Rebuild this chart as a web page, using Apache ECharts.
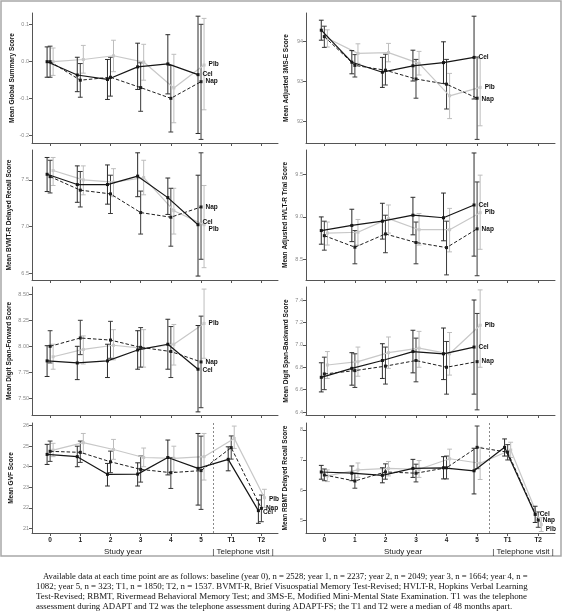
<!DOCTYPE html>
<html><head><meta charset="utf-8">
<script src="https://cdn.jsdelivr.net/npm/echarts@6/dist/echarts.min.js"></script>
<style>html,body{margin:0;padding:0;background:#fff}#c{width:562px;height:614px}</style>
</head><body><div id="c"></div>
<script>
// ---------- categories ----------
const groups = ['Cel', 'Nap', 'Plb'];
const studyYears = [0, 1, 2, 3, 4, 5];
const allVisits = [0, 1, 2, 3, 4, 5, 6, 7];
const xTickLabels = ['0', '1', '2', '3', '4', '5', 'T1', 'T2'];
const telephoneDivider = 5.4;

// ---------- Global Summary Score ----------
const gsTicks = [-0.2, -0.1, 0.0, 0.1];
const gsCel = [0.0, -0.036, -0.048, -0.014, -0.006, -0.035];
const gsCelLo = [-0.042, -0.081, -0.102, -0.075, -0.087, -0.194];
const gsCelHi = [0.040, 0.012, 0.006, 0.050, 0.073, 0.123];
const gsNap = [0.0, -0.050, -0.042, -0.070, -0.099, -0.054];
const gsNapLo = [-0.042, -0.096, -0.093, -0.134, -0.190, -0.210];
const gsNapHi = [0.042, -0.005, 0.012, -0.003, -0.010, 0.101];
const gsPlb = [0.0, 0.006, 0.016, -0.001, -0.071, -0.009];
const gsPlbLo = [-0.037, -0.031, -0.027, -0.050, -0.165, -0.130];
const gsPlbHi = [0.037, 0.044, 0.058, 0.047, 0.020, 0.117];

// ---------- Adjusted 3MS-E ----------
const msTicks = [92, 93, 94];
const msCel = [94.27, 93.47, 93.22, 93.38, 93.46, 93.59];
const msCelLo = [94.02, 93.18, 92.84, 93.00, 92.94, 92.55];
const msCelHi = [94.52, 93.76, 93.59, 93.77, 93.98, 94.62];
const msNap = [94.11, 93.39, 93.27, 93.05, 92.92, 92.57];
const msNapLo = [93.84, 93.10, 92.90, 92.57, 92.30, 91.54];
const msNapHi = [94.37, 93.66, 93.67, 93.54, 93.54, 93.60];
const msPlb = [94.07, 93.69, 93.71, 93.44, 92.63, 92.84];
const msPlbLo = [93.85, 93.44, 93.48, 93.15, 92.06, 91.88];
const msPlbHi = [94.28, 93.93, 93.94, 93.74, 93.19, 93.56];

// ---------- BVMT-R Delayed Recall ----------
const bvTicks = [6.5, 7.0, 7.5];
const bvCel = [7.56, 7.45, 7.45, 7.54, 7.31, 7.02];
const bvCelLo = [7.375, 7.26, 7.24, 7.32, 7.13, 6.47];
const bvCelHi = [7.74, 7.65, 7.66, 7.79, 7.52, 7.55];
const bvNap = [7.535, 7.39, 7.35, 7.15, 7.10, 7.21];
const bvNapLo = [7.36, 7.21, 7.14, 6.92, 6.79, 6.65];
const bvNapHi = [7.71, 7.59, 7.55, 7.38, 7.41, 7.79];
const bvPlb = [7.60, 7.50, 7.475, 7.525, 7.17, 7.02];
const bvPlbLo = [7.44, 7.34, 7.32, 7.34, 6.92, 6.56];
const bvPlbHi = [7.74, 7.65, 7.62, 7.71, 7.41, 7.44];

// ---------- Adjusted HVLT-R Trial ----------
const hvTicks = [8.5, 9.0, 9.5];
const hvCel = [8.84, 8.90, 8.95, 9.02, 8.99, 9.14];
const hvCelLo = [8.68, 8.71, 8.74, 8.79, 8.72, 8.54];
const hvCelHi = [9.00, 9.09, 9.16, 9.23, 9.28, 9.75];
const hvNap = [8.78, 8.645, 8.80, 8.70, 8.64, 8.86];
const hvNapLo = [8.61, 8.45, 8.58, 8.45, 8.32, 8.31];
const hvNapHi = [8.95, 8.84, 9.02, 8.94, 8.95, 9.41];
const hvPlb = [8.81, 8.82, 8.98, 8.85, 8.85, 9.05];
const hvPlbLo = [8.67, 8.67, 8.81, 8.67, 8.59, 8.62];
const hvPlbHi = [8.94, 8.97, 9.14, 9.04, 9.10, 9.49];

// ---------- Digit Span-Forward ----------
const dfTicks = [7.50, 7.75, 8.00, 8.25, 8.50];
const dfCel = [7.86, 7.84, 7.86, 7.965, 8.02, 7.78];
const dfCelLo = [7.71, 7.68, 7.70, 7.78, 7.78, 7.37];
const dfCelHi = [8.006, 8.00, 8.02, 8.15, 8.26, 8.20];
const dfNap = [8.00, 8.08, 8.06, 7.99, 7.95, 7.85];
const dfNapLo = [7.84, 7.92, 7.885, 7.80, 7.70, 7.41];
const dfNapHi = [8.15, 8.25, 8.24, 8.18, 8.19, 8.29];
const dfPlb = [7.90, 7.97, 8.01, 7.98, 8.02, 8.22];
const dfPlbLo = [7.78, 7.83, 7.87, 7.80, 7.82, 7.885];
const dfPlbHi = [8.02, 8.10, 8.16, 8.16, 8.21, 8.55];

// ---------- Digit Span-Backward ----------
const dbTicks = [6.4, 6.6, 6.8, 7.0, 7.2, 7.4];
const dbCel = [6.71, 6.79, 6.86, 6.94, 6.92, 6.98];
const dbCelLo = [6.58, 6.64, 6.70, 6.75, 6.69, 6.56];
const dbCelHi = [6.84, 6.93, 7.01, 7.13, 7.15, 7.40];
const dbNap = [6.74, 6.77, 6.81, 6.86, 6.80, 6.85];
const dbNapLo = [6.60, 6.62, 6.65, 6.67, 6.56, 6.42];
const dbNapHi = [6.89, 6.92, 6.98, 7.06, 7.03, 7.28];
const dbPlb = [6.82, 6.85, 6.93, 6.97, 6.92, 7.175];
const dbPlbLo = [6.70, 6.72, 6.79, 6.80, 6.73, 6.80];
const dbPlbHi = [6.94, 6.98, 7.07, 7.12, 7.11, 7.49];

// ---------- GVF ----------
const gvTicks = [21, 22, 23, 24, 25, 26];
const gvCel = [24.60, 24.49, 23.63, 23.64, 24.45, 23.92, 24.36, 21.86];
const gvCelLo = [24.11, 24.00, 23.06, 23.06, 23.60, 22.13, 23.80, 21.24];
const gvCelHi = [25.09, 25.00, 24.16, 24.19, 25.30, 25.62, 24.97, 22.38];
const gvNap = [24.75, 24.70, 24.24, 23.87, 23.71, 23.81, 24.93, 21.97];
const gvNapLo = [24.26, 24.21, 23.71, 23.25, 22.94, 21.92, 24.37, 21.32];
const gvNapHi = [25.25, 25.25, 24.76, 24.52, 24.45, 25.49, 25.50, 22.62];
const gvPlb = [24.81, 25.17, 24.84, 24.45, 24.41, 24.49, 25.38, 22.49];
const gvPlbLo = [24.49, 24.65, 24.36, 24.00, 23.76, 23.35, 24.89, 22.02];
const gvPlbHi = [25.14, 25.62, 25.33, 24.91, 25.00, 25.62, 25.98, 22.90];

// ---------- RBMT Delayed Recall ----------
const rbTicks = [5, 6, 7, 8];
const rbCel = [6.60, 6.56, 6.49, 6.72, 6.74, 6.64, 7.42, 5.19];
const rbCelLo = [6.36, 6.31, 6.24, 6.42, 6.37, 5.87, 7.13, 4.92];
const rbCelHi = [6.82, 6.80, 6.74, 7.02, 7.11, 7.39, 7.70, 5.46];
const rbNap = [6.50, 6.30, 6.60, 6.56, 6.74, 7.42, 7.26, 5.00];
const rbNapLo = [6.31, 6.06, 6.36, 6.27, 6.37, 6.71, 7.00, 4.76];
const rbNapHi = [6.70, 6.56, 6.87, 6.86, 7.13, 8.13, 7.51, 5.27];
const rbPlb = [6.47, 6.67, 6.72, 6.69, 7.04, 6.89, 7.33, 4.85];
const rbPlbLo = [6.28, 6.42, 6.47, 6.42, 6.71, 6.35, 7.08, 4.62];
const rbPlbHi = [6.67, 6.90, 6.95, 6.98, 7.36, 7.42, 7.59, 5.08];

// ---------- caption ----------
const captionLines = [
  'Available data at each time point are as follows: baseline (year 0), n = 2528; year 1, n = 2237; year 2, n = 2049; year 3, n = 1664; year 4, n =',
  '1082; year 5, n = 323; T1, n = 1850; T2, n = 1537. BVMT-R, Brief Visuospatial Memory Test-Revised; HVLT-R, Hopkins Verbal Learning',
  'Test-Revised; RBMT, Rivermead Behavioral Memory Test; and 3MS-E, Modified Mini-Mental State Examination. T1 was the telephone',
  'assessment during ADAPT and T2 was the telephone assessment during ADAPT-FS; the T1 and T2 were a median of 48 months apart.'
];

// ---------- panel definitions ----------
const panels = [
  {name: 'Mean Global Summary Score', ticks: gsTicks, dec: 1, x: studyYears,
   d: {Cel: [gsCel, gsCelLo, gsCelHi], Nap: [gsNap, gsNapLo, gsNapHi], Plb: [gsPlb, gsPlbLo, gsPlbHi]}},
  {name: 'Mean Adjusted 3MS-E Score', ticks: msTicks, dec: 0, x: studyYears,
   d: {Cel: [msCel, msCelLo, msCelHi], Nap: [msNap, msNapLo, msNapHi], Plb: [msPlb, msPlbLo, msPlbHi]}},
  {name: 'Mean BVMT-R Delayed Recall Score', ticks: bvTicks, dec: 1, x: studyYears,
   d: {Cel: [bvCel, bvCelLo, bvCelHi], Nap: [bvNap, bvNapLo, bvNapHi], Plb: [bvPlb, bvPlbLo, bvPlbHi]}},
  {name: 'Mean Adjusted HVLT-R Trial Score', ticks: hvTicks, dec: 1, x: studyYears,
   d: {Cel: [hvCel, hvCelLo, hvCelHi], Nap: [hvNap, hvNapLo, hvNapHi], Plb: [hvPlb, hvPlbLo, hvPlbHi]}},
  {name: 'Mean Digit Span-Forward Score', ticks: dfTicks, dec: 2, x: studyYears,
   d: {Cel: [dfCel, dfCelLo, dfCelHi], Nap: [dfNap, dfNapLo, dfNapHi], Plb: [dfPlb, dfPlbLo, dfPlbHi]}},
  {name: 'Mean Digit Span-Backward Score', ticks: dbTicks, dec: 1, x: studyYears,
   d: {Cel: [dbCel, dbCelLo, dbCelHi], Nap: [dbNap, dbNapLo, dbNapHi], Plb: [dbPlb, dbPlbLo, dbPlbHi]}},
  {name: 'Mean GVF Score', ticks: gvTicks, dec: 0, x: allVisits,
   d: {Cel: [gvCel, gvCelLo, gvCelHi], Nap: [gvNap, gvNapLo, gvNapHi], Plb: [gvPlb, gvPlbLo, gvPlbHi]}},
  {name: 'Mean RBMT Delayed Recall Score', ticks: rbTicks, dec: 0, x: allVisits,
   d: {Cel: [rbCel, rbCelLo, rbCelHi], Nap: [rbNap, rbNapLo, rbNapHi], Plb: [rbPlb, rbPlbLo, rbPlbHi]}}
];

// ---------- layout / style ----------
const layout = [
  {left: 32, top: 13, width: 246, height: 130, ymin: -0.2197, ymax: 0.1316, gap: 16, ldy: {Cel: 0, Nap: 0, Plb: -1}},
  {left: 306, top: 13, width: 249, height: 130, ymin: 91.45, ymax: 94.70, gap: 16, ldy: {Cel: 0, Nap: 1, Plb: 0}},
  {left: 32, top: 150, width: 246, height: 130, ymin: 6.428, ymax: 7.82, gap: 19, ldy: {Cel: -3, Nap: 0, Plb: 4}},
  {left: 306, top: 150, width: 249, height: 130, ymin: 8.26, ymax: 9.785, gap: 17, ldy: {Cel: 0, Nap: 0, Plb: 0}},
  {left: 32, top: 287, width: 246, height: 128, ymin: 7.34, ymax: 8.57, gap: 19, ldy: {Cel: 1, Nap: 0, Plb: 0}},
  {left: 306, top: 287, width: 249, height: 128, ymin: 6.374, ymax: 7.516, gap: 16, ldy: {Cel: 0, Nap: 0, Plb: 0}},
  {left: 32, top: 423, width: 246, height: 110, ymin: 20.77, ymax: 26.13, gap: 17, ldy: {Cel: 2, Nap: 0, Plb: 2}},
  {left: 306, top: 423, width: 249, height: 110, ymin: 4.57, ymax: 8.23, gap: 17, ldy: {Cel: 0, Nap: 0, Plb: 5}}
];
const offsets = {Cel: -0.1, Nap: 0, Plb: 0.1};
const gstyle = {
  Cel: {color: '#161616', type: 'solid', width: 1.2, bar: '#2b2b2b'},
  Nap: {color: '#1e1e1e', type: [3.5, 2], width: 1, bar: '#3a3a3a'},
  Plb: {color: '#c8c8c8', type: 'solid', width: 1.2, bar: '#bdbdbd'}
};
const drawOrder = ['Plb', 'Nap', 'Cel'];
const FONT = 'Liberation Sans, Arial, sans-serif';
const SERIF = 'Liberation Serif, Times New Roman, serif';

function errRender(color) {
  return function (params, api) {
    const x = api.value(0), lo = api.value(1), hi = api.value(2);
    const a = api.coord([x, hi]), b = api.coord([x, lo]);
    const w = 2.4;
    const st = {stroke: color, lineWidth: 1};
    return {type: 'group', children: [
      {type: 'line', shape: {x1: a[0], y1: a[1], x2: b[0], y2: b[1]}, style: st},
      {type: 'line', shape: {x1: a[0] - w, y1: a[1], x2: a[0] + w, y2: a[1]}, style: st},
      {type: 'line', shape: {x1: b[0] - w, y1: b[1], x2: b[0] + w, y2: b[1]}, style: st}
    ]};
  };
}

const grids = [], xAxes = [], yAxes = [], series = [];
panels.forEach((p, i) => {
  const L = layout[i];
  const bottomRow = i >= 6;
  grids.push({left: L.left, top: L.top, width: L.width, height: L.height});
  xAxes.push({
    gridIndex: i, type: 'value', min: -0.6, max: 7.55,
    axisLine: {show: true, onZero: false, lineStyle: {color: '#555', width: 1}},
    axisTick: {show: true, customValues: allVisits, length: 3, lineStyle: {color: '#555'}},
    axisLabel: {show: bottomRow, customValues: allVisits, margin: 4,
      formatter: v => xTickLabels[allVisits.indexOf(Math.round(v))],
      fontSize: 6.5, fontWeight: 'bold', color: '#222', fontFamily: FONT},
    splitLine: {show: false}
  });
  yAxes.push({
    gridIndex: i, type: 'value', min: L.ymin, max: L.ymax,
    name: p.name, nameLocation: 'middle', nameRotate: 90, nameGap: L.gap,
    nameTextStyle: {fontSize: 6.5, fontWeight: 'bold', color: '#111', fontFamily: FONT},
    axisLine: {show: true, onZero: false, lineStyle: {color: '#555', width: 1}},
    axisTick: {show: true, customValues: p.ticks, length: 3, lineStyle: {color: '#555'}},
    axisLabel: {customValues: p.ticks, margin: 3, formatter: v => v.toFixed(p.dec),
      fontSize: 5.5, color: '#8a8a8a', fontFamily: FONT},
    splitLine: {show: false}
  });
  drawOrder.forEach((g, gi) => {
    const [m, lo, hi] = p.d[g];
    const st = gstyle[g];
    series.push({
      type: 'custom', xAxisIndex: i, yAxisIndex: i, silent: true, z: 2 + gi,
      data: p.x.map((x, k) => [x + offsets[g], lo[k], hi[k]]),
      renderItem: errRender(st.bar), animation: false
    });
    const last = p.x.length - 1;
    const s = {
      type: 'line', xAxisIndex: i, yAxisIndex: i, z: 3 + gi, animation: false, silent: true,
      symbol: 'rect', symbolSize: 3, showSymbol: true,
      lineStyle: {color: st.color, type: st.type, width: st.width},
      itemStyle: {color: st.color},
      data: p.x.map((x, k) => {
        const item = {value: [x + offsets[g], m[k]]};
        if (k === last) {
          item.label = {show: true, position: 'right', distance: 3, formatter: g,
            offset: [0, L.ldy[g]], fontSize: 6.5, fontWeight: 'bold', color: '#111', fontFamily: FONT};
        }
        return item;
      })
    };
    if (bottomRow && g === 'Plb') {
      s.markLine = {silent: true, symbol: 'none', animation: false,
        label: {show: false},
        lineStyle: {type: [2, 2], color: '#8a8a8a', width: 1},
        data: [{xAxis: telephoneDivider}]};
    }
    series.push(s);
  });
});

const graphics = [
  {type: 'rect', shape: {x: 1, y: 1, width: 560, height: 555}, style: {fill: 'none', stroke: '#a8a8a8', lineWidth: 1.5}, z: 0}
];
[[123, 243], [403, 523]].forEach(([a, b]) => {
  graphics.push({type: 'text', x: a, y: 552, style: {text: 'Study year', fontSize: 8, fontFamily: FONT, fill: '#222', align: 'center', verticalAlign: 'middle'}});
  graphics.push({type: 'text', x: b, y: 552, style: {text: '| Telephone visit |', fontSize: 8, fontFamily: FONT, fill: '#222', align: 'center', verticalAlign: 'middle'}});
});

// caption: fit justified lines to a common right edge
const capX = [43, 36, 36, 36];
const capY = [577, 587, 597, 607];
const capRight = 528;
const mctx = document.createElement('canvas').getContext('2d');
function fitSize(text, width) {
  mctx.font = '10px ' + SERIF;
  return 10 * width / mctx.measureText(text).width;
}
const sizes = captionLines.slice(0, 3).map((t, k) => fitSize(t, capRight - capX[k]));
const baseSize = (sizes[0] + sizes[1] + sizes[2]) / 3;
captionLines.forEach((t, k) => {
  const fs = k < 3 ? sizes[k] : baseSize;
  graphics.push({type: 'text', x: capX[k], y: capY[k], style: {text: t, fontSize: fs, fontFamily: SERIF, fill: '#111', align: 'left', verticalAlign: 'middle'}});
});

const chart = echarts.init(document.getElementById('c'), null, {renderer: 'canvas'});
chart.setOption({
  animation: false,
  backgroundColor: '#fff',
  textStyle: {fontFamily: FONT},
  grid: grids, xAxis: xAxes, yAxis: yAxes, series: series,
  graphic: graphics
});
</script></body></html>
